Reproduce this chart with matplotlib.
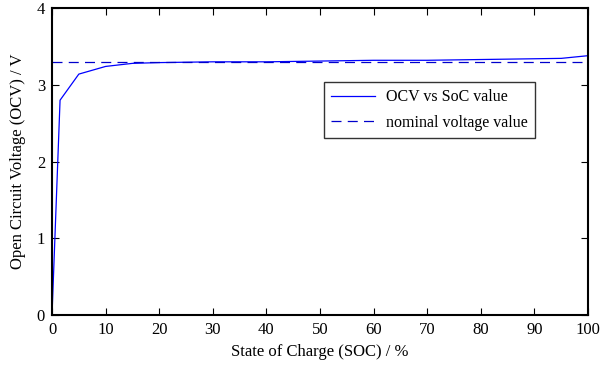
import matplotlib
matplotlib.use("Agg")
import matplotlib.pyplot as plt

# State of charge (%) and measured open circuit voltage (V)
soc = [0, 1.5, 5, 10, 15, 20, 30, 40, 50, 60, 70, 80, 90, 95, 100]
ocv = [0, 2.80, 3.14, 3.24, 3.28, 3.29, 3.30, 3.30, 3.31, 3.32, 3.32, 3.33, 3.34, 3.345, 3.38]
nominal_voltage = 3.3
x_ticks = [0, 10, 20, 30, 40, 50, 60, 70, 80, 90, 100]
y_ticks = [0, 1, 2, 3, 4]

plt.rcParams['font.family'] = ['Liberation Serif', 'DejaVu Serif']
plt.rcParams['mathtext.fontset'] = 'stix'

fig = plt.figure(figsize=(6.0, 3.69), dpi=100)
ax = fig.add_axes([0.0867, 0.1463, 0.8933, 0.8317])

ax.plot(soc, ocv, color='#0000ff', lw=0.9, label='OCV vs SoC value')
ax.plot([0, 100], [nominal_voltage, nominal_voltage], color='#0000cc', lw=0.9,
        ls=(0, (8, 5)), label='nominal voltage value')

ax.set_xlim(0, 100)
ax.set_ylim(0, 4)
ax.set_xticks(x_ticks)
ax.set_yticks(y_ticks)
ax.tick_params(direction='in', top=True, right=True, length=5, width=0.8,
               labelsize=12, pad=5)
for s in ax.spines.values():
    s.set_linewidth(1.5)

ax.set_xlabel('State of Charge (SOC) / %', fontsize=12, labelpad=4)
ax.set_ylabel('Open Circuit Voltage (OCV) / V', fontsize=12, labelpad=8)

leg = ax.legend(loc='upper left', bbox_to_anchor=(0.507, 0.759), fontsize=11.5,
                frameon=True, fancybox=False, edgecolor='black',
                borderaxespad=0, handlelength=2.75, borderpad=0.46,
                labelspacing=0.6, handletextpad=0.69)
leg.get_frame().set_linewidth(1.0)

fig.savefig('out.png', dpi=100)
